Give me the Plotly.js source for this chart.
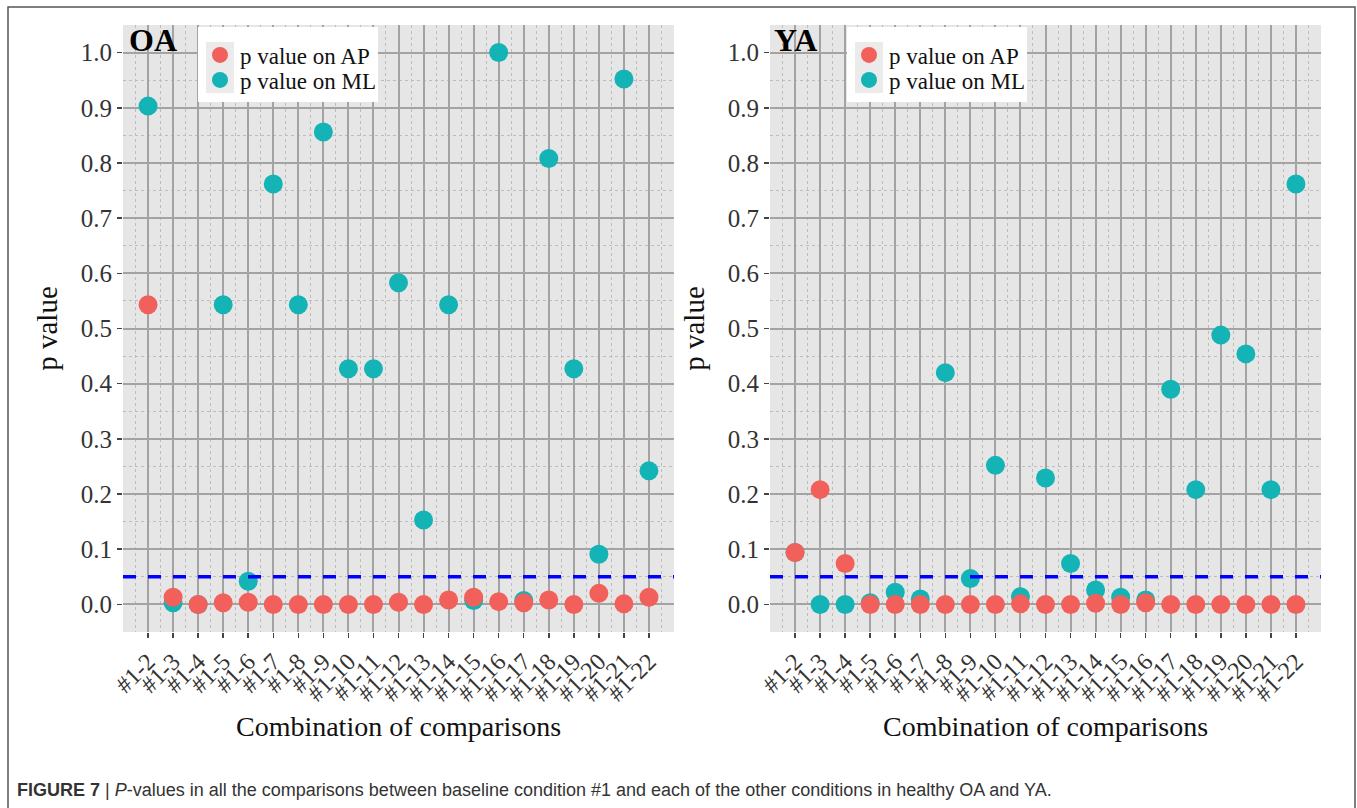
<!DOCTYPE html>
<html>
<head>
<meta charset="utf-8">
<script src="https://cdn.plot.ly/plotly-3.0.1.min.js"></script>
<style>
html,body{margin:0;padding:0;background:#fff;}
#chart{width:1357px;height:808px;}
</style>
</head>
<body>
<div id="chart"></div>
<script>
// ---- data ----
const categories = ['#1-2','#1-3','#1-4','#1-5','#1-6','#1-7','#1-8','#1-9','#1-10','#1-11','#1-12','#1-13','#1-14','#1-15','#1-16','#1-17','#1-18','#1-19','#1-20','#1-21','#1-22'];
const oaAP = [0.543,0.013,0.000,0.003,0.004,0.000,0.000,0.000,0.000,0.000,0.004,0.000,0.008,0.013,0.005,0.003,0.008,0.000,0.020,0.001,0.013];
const oaML = [0.903,0.003,0.000,0.543,0.042,0.762,0.543,0.856,0.427,0.427,0.583,0.153,0.543,0.007,1.000,0.007,0.808,0.427,0.091,0.952,0.242];
const yaAP = [0.094,0.208,0.074,0.000,0.000,0.000,0.000,0.000,0.000,0.001,0.000,0.000,0.002,0.000,0.003,0.000,0.000,0.000,0.000,0.000,0.000];
const yaML = [0.094,0.000,0.000,0.003,0.022,0.010,0.420,0.047,0.252,0.014,0.229,0.074,0.026,0.013,0.008,0.390,0.208,0.488,0.454,0.208,0.762];
const seriesNames = ['p value on AP','p value on ML'];
const panelTitles = ['OA','YA'];
const yTickVals = [0,0.1,0.2,0.3,0.4,0.5,0.6,0.7,0.8,0.9,1.0];
const yTickText = ['0.0','0.1','0.2','0.3','0.4','0.5','0.6','0.7','0.8','0.9','1.0'];
const threshold = 0.05;

// ---- styling ----
const W = 1357, H = 808;
const px = v => v / W;
const py = v => 1 - v / H;
const RED = '#F2605B', TEAL = '#14B3B5';
const SERIF = 'Liberation Serif, Times New Roman, serif';
const xpos = categories.map((_, i) => i + 1);

function axisX(dom, anchor){
  return {
    domain: dom, anchor: anchor, range: [0, 22], showline: false, zeroline: false,
    tickmode: 'array', tickvals: xpos, ticktext: categories, tickangle: -45,
    ticks: 'outside', ticklen: 5, tickwidth: 1.5, tickcolor: '#444',
    tickfont: {family: SERIF, size: 24, color: '#333'},
    showgrid: true, gridcolor: '#A3A3A3', gridwidth: 2,
    minor: {tick0: 0.5, dtick: 1, showgrid: true, gridcolor: '#BDBDBD', gridwidth: 1, griddash: 'dot'},
    title: {text: 'Combination of comparisons', font: {family: SERIF, size: 28, color: '#111'}, standoff: 10},
    automargin: false, fixedrange: true
  };
}
function axisY(dom, anchor){
  return {
    domain: dom, anchor: anchor, range: [-0.05, 1.05], showline: false, zeroline: false,
    tickmode: 'array', tickvals: yTickVals, ticktext: yTickText,
    ticks: 'outside', ticklen: 5, tickwidth: 1.5, tickcolor: '#444',
    tickfont: {family: SERIF, size: 25, color: '#333'},
    showgrid: true, gridcolor: '#A3A3A3', gridwidth: 2,
    minor: {tick0: 0.05, dtick: 0.1, showgrid: true, gridcolor: '#BDBDBD', gridwidth: 1, griddash: 'dot'},
    title: {text: 'p value', font: {family: SERIF, size: 29, color: '#111'}, standoff: 14},
    automargin: false, fixedrange: true
  };
}

function tr(y, name, color, xa, ya, legend){
  return {
    type: 'scatter', mode: 'markers', x: xpos, y: y, name: name,
    xaxis: xa, yaxis: ya, legend: legend,
    marker: {color: color, size: 19, line: {width: 0}}, hoverinfo: 'x+y'
  };
}

const data = [
  tr(oaML, seriesNames[1], TEAL, 'x', 'y', 'legend2'),
  tr(oaAP, seriesNames[0], RED, 'x', 'y', 'legend'),
  tr(yaML, seriesNames[1], TEAL, 'x2', 'y2', 'legend4'),
  tr(yaAP, seriesNames[0], RED, 'x2', 'y2', 'legend3')
];

const yDom = [py(632), py(25)];
const legFont = {family: SERIF, size: 23, color: '#111'};
function leg(xPix, yPix){
  return {x: px(xPix), y: py(yPix), xanchor: 'left', yanchor: 'middle', bgcolor: 'rgba(0,0,0,0)', borderwidth: 0,
          font: legFont, itemclick: false, itemdoubleclick: false};
}

const shapes = [
  // outer figure frame
  {type: 'rect', xref: 'paper', yref: 'paper', x0: px(8), x1: px(1355), y0: -0.05, y1: py(7),
   line: {color: '#555', width: 1.5}, fillcolor: 'rgba(0,0,0,0)', layer: 'below'},
  // threshold lines
  {type: 'line', xref: 'x domain', yref: 'y', x0: 0, x1: 1, y0: threshold, y1: threshold,
   line: {color: '#0000FF', width: 3.5, dash: '13px,12px'}, layer: 'above'},
  {type: 'line', xref: 'x2 domain', yref: 'y2', x0: 0, x1: 1, y0: threshold, y1: threshold,
   line: {color: '#0000FF', width: 3.5, dash: '13px,12px'}, layer: 'above'},
  // legend boxes
  {type: 'rect', xref: 'paper', yref: 'paper', x0: px(198), x1: px(378), y0: py(102), y1: py(27),
   line: {width: 0}, fillcolor: '#FFFFFF', layer: 'above'},
  {type: 'rect', xref: 'paper', yref: 'paper', x0: px(206), x1: px(234), y0: py(93), y1: py(42),
   line: {width: 0}, fillcolor: '#EBEBEB', layer: 'above'},
  {type: 'rect', xref: 'paper', yref: 'paper', x0: px(847), x1: px(1027), y0: py(102), y1: py(27),
   line: {width: 0}, fillcolor: '#FFFFFF', layer: 'above'},
  {type: 'rect', xref: 'paper', yref: 'paper', x0: px(855), x1: px(883), y0: py(93), y1: py(42),
   line: {width: 0}, fillcolor: '#EBEBEB', layer: 'above'}
];

const annotations = [
  {xref: 'paper', yref: 'paper', x: px(127), y: py(40), xanchor: 'left', yanchor: 'middle', showarrow: false,
   text: '<b>' + panelTitles[0] + '</b>', font: {family: SERIF, size: 32, color: '#000'}},
  {xref: 'paper', yref: 'paper', x: px(772), y: py(40), xanchor: 'left', yanchor: 'middle', showarrow: false,
   text: '<b>' + panelTitles[1] + '</b>', font: {family: SERIF, size: 32, color: '#000'}},
  {xref: 'paper', yref: 'paper', x: px(15), y: py(790), xanchor: 'left', yanchor: 'middle', showarrow: false,
   text: '<b>FIGURE 7</b> <span style="color:#333">|</span> <i>P</i>-values in all the comparisons between baseline condition #1 and each of the other conditions in healthy OA and YA.',
   font: {family: 'Liberation Sans, Arial, sans-serif', size: 18, color: '#333'}}
];

const layout = {
  width: W, height: H, margin: {l: 0, r: 0, t: 0, b: 0},
  paper_bgcolor: '#FFFFFF', plot_bgcolor: '#E6E6E6',
  showlegend: true,
  xaxis: axisX([px(123), px(674)], 'y'),
  yaxis: axisY(yDom, 'x'),
  xaxis2: axisX([px(770), px(1321)], 'y2'),
  yaxis2: axisY(yDom, 'x2'),
  legend: leg(200, 55),
  legend2: leg(200, 80),
  legend3: leg(849, 55),
  legend4: leg(849, 80),
  shapes: shapes,
  annotations: annotations
};

Plotly.newPlot('chart', data, layout, {displayModeBar: false, staticPlot: true});
</script>
</body>
</html>
